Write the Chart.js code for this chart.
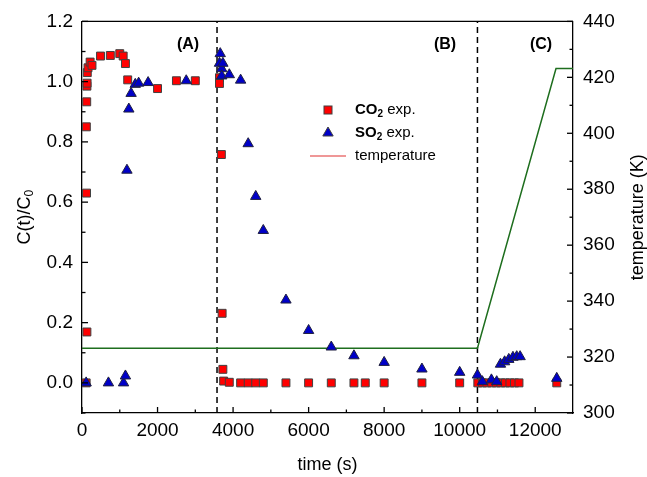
<!DOCTYPE html>
<html>
<head>
<meta charset="utf-8">
<script src="https://cdn.jsdelivr.net/npm/chart.js@4"></script>
<style>
  html, body { margin: 0; padding: 0; background: #fff; }
</style>
</head>
<body>
<canvas id="chart" width="647" height="477"></canvas>
<script>
// ─── Data ─────────────────────────────────────
const co2Time  = [110, 130, 120, 115, 125, 130, 135, 140, 160, 215, 265, 490, 750, 1000, 1090, 1150, 1210,
                  2000, 2500, 3000, 3640, 3640, 3690, 3710, 3730, 3750, 3900, 4200, 4400, 4600, 4800, 5400,
                  6000, 6600, 7200, 7500, 8000, 9000, 10000, 10480, 10600, 10720, 10850, 10970, 11090, 11210,
                  11330, 11450, 11570, 12570];
const co2Value = [0.0, 0.169, 0.63, 0.85, 0.933, 0.985, 0.995, 1.03, 1.046, 1.065, 1.054, 1.085, 1.087, 1.093, 1.085, 1.06, 1.006,
                  0.977, 1.003, 1.003, 1.013, 0.994, 0.758, 0.231, 0.045, 0.006, 0.002, 0.0, 0.0, 0.0, 0.0, 0.0,
                  0.0, 0.0, 0.0, 0.0, 0.0, 0.0, 0.0, 0.0, 0.0, 0.0, 0.0, 0.0, 0.0, 0.0,
                  0.0, 0.0, 0.0, 0.0];

const so2Time  = [110, 700, 1100, 1150, 1190, 1240, 1300, 1410, 1500, 1750, 2760, 3640, 3660, 3700, 3700, 3730,
                  3900, 4200, 4400, 4600, 4800, 5400, 6000, 6600, 7200, 8000, 9000, 10000, 10470, 10600, 10840,
                  10980, 11080, 11190, 11300, 11410, 11510, 11600, 12570];
const so2Value = [0.0, 0.0, 0.0, 0.023, 0.706, 0.909, 0.961, 0.991, 0.995, 0.997, 1.003, 1.061, 1.093, 1.043, 1.019, 1.061,
                  1.023, 1.005, 0.794, 0.619, 0.506, 0.275, 0.174, 0.119, 0.09, 0.068, 0.046, 0.035, 0.026, 0.004, 0.01,
                  0.004, 0.062, 0.07, 0.078, 0.085, 0.087, 0.087, 0.015];

const tempTime = [0, 10470, 12550, 13000];
const tempK    = [323.15, 323.15, 423.15, 423.15];

const phaseBreaks = [3575, 10470];            // dashed separators
const phaseLabels = ['(A)', '(B)', '(C)'];

const xTicks      = [0, 2000, 4000, 6000, 8000, 10000, 12000];
const xMinor      = [1000, 3000, 5000, 7000, 9000, 11000];
const yTicks      = [0, 0.2, 0.4, 0.6, 0.8, 1.0, 1.2];
const yMinor      = [-0.1, 0.1, 0.3, 0.5, 0.7, 0.9, 1.1];
const tTicks      = [300, 320, 340, 360, 380, 400, 420, 440];
const tMinor      = [310, 330, 350, 370, 390, 410, 430];

const FONT = "'Liberation Sans', Arial, sans-serif";
const RED = '#ff0000', BLUE = '#0000c8', GREEN = '#1e6e1e';

const zip = (xs, ys) => xs.map((x, i) => ({ x, y: ys[i] }));

// ─── Decorations: inward ticks, frame, dashed lines, labels, legend ──
const decor = {
  id: 'decor',
  beforeDatasetsDraw(chart) {
    const { ctx, chartArea: a, scales } = chart;
    ctx.save();
    ctx.strokeStyle = '#000';
    ctx.lineWidth = 1.5;
    ctx.setLineDash([6, 4]);
    phaseBreaks.forEach(t => {
      const px = scales.x.getPixelForValue(t);
      ctx.beginPath(); ctx.moveTo(px, a.bottom); ctx.lineTo(px, a.top); ctx.stroke();
    });
    ctx.restore();
  },
  afterDraw(chart) {
    const { ctx, chartArea: a, scales } = chart;
    const { x, y, y2 } = scales;
    ctx.save();
    ctx.strokeStyle = '#000';
    ctx.lineWidth = 1.3;

    // frame top line
    ctx.beginPath(); ctx.moveTo(a.left, a.top); ctx.lineTo(a.right, a.top); ctx.stroke();

    const tick = (x0, y0, x1, y1) => { ctx.beginPath(); ctx.moveTo(x0, y0); ctx.lineTo(x1, y1); ctx.stroke(); };
    xTicks.forEach(v => { const p = x.getPixelForValue(v); tick(p, a.bottom, p, a.bottom - 6); });
    xMinor.forEach(v => { const p = x.getPixelForValue(v); tick(p, a.bottom, p, a.bottom - 3.5); });
    yTicks.forEach(v => { const p = y.getPixelForValue(v); tick(a.left, p, a.left + 6, p); });
    yMinor.forEach(v => { const p = y.getPixelForValue(v); tick(a.left, p, a.left + 3.5, p); });
    tTicks.forEach(v => { const p = y2.getPixelForValue(v); tick(a.right, p, a.right - 6, p); });
    tMinor.forEach(v => { const p = y2.getPixelForValue(v); tick(a.right, p, a.right - 3.5, p); });

    ctx.fillStyle = '#000';
    ctx.textBaseline = 'middle';

    // phase labels
    ctx.font = `bold 16px ${FONT}`;
    ctx.textAlign = 'center';
    [[188, 45], [445, 45], [541, 45]].forEach((p, i) => ctx.fillText(phaseLabels[i], p[0], p[1]));

    // axis titles
    ctx.font = `18px ${FONT}`;
    ctx.fillText('time (s)', (a.left + a.right) / 2, 465);

    ctx.save();
    ctx.translate(25, (a.top + a.bottom) / 2);
    ctx.rotate(-Math.PI / 2);
    ctx.font = `18px ${FONT}`;
    const main = 'C(t)/C', wMain = ctx.measureText(main).width;
    ctx.font = `12px ${FONT}`;
    const wSub = ctx.measureText('0').width;
    const x0 = -(wMain + wSub) / 2;
    ctx.textAlign = 'left';
    ctx.font = `18px ${FONT}`;
    ctx.fillText(main, x0, 0);
    ctx.font = `12px ${FONT}`;
    ctx.fillText('0', x0 + wMain, 5);
    ctx.restore();

    ctx.save();
    ctx.translate(638, (a.top + a.bottom) / 2);
    ctx.rotate(-Math.PI / 2);
    ctx.font = `18px ${FONT}`;
    ctx.textAlign = 'center';
    ctx.fillText('temperature (K)', 0, 0);
    ctx.restore();

    // legend
    const lx = 328, tx = 355, rows = [110, 133, 156];
    ctx.lineWidth = 1;
    ctx.strokeStyle = '#404040';
    ctx.fillStyle = RED;
    ctx.fillRect(lx - 4, rows[0] - 4, 8, 8); ctx.strokeRect(lx - 4, rows[0] - 4, 8, 8);
    ctx.fillStyle = BLUE;
    ctx.beginPath();
    ctx.moveTo(lx, rows[1] - 6); ctx.lineTo(lx + 5.2, rows[1] + 3); ctx.lineTo(lx - 5.2, rows[1] + 3); ctx.closePath();
    ctx.fill(); ctx.stroke();
    ctx.strokeStyle = '#e03030';
    ctx.lineWidth = 1.2;
    ctx.beginPath(); ctx.moveTo(310, rows[2]); ctx.lineTo(346, rows[2]); ctx.stroke();

    ctx.fillStyle = '#000';
    ctx.textAlign = 'left';
    const subLabel = (gas, row) => {
      let cx = tx;
      ctx.font = `bold 15px ${FONT}`;
      ctx.fillText(gas, cx, row); cx += ctx.measureText(gas).width;
      ctx.font = `bold 10px ${FONT}`;
      ctx.fillText('2', cx, row + 4); cx += ctx.measureText('2').width;
      ctx.font = `15px ${FONT}`;
      ctx.fillText(' exp.', cx, row);
    };
    subLabel('CO', rows[0]);
    subLabel('SO', rows[1]);
    ctx.font = `15px ${FONT}`;
    ctx.fillText('temperature', tx, rows[2]);
    ctx.restore();
  }
};

const axisBase = {
  grid: { display: false, drawTicks: false },
  border: { display: true, color: '#000', width: 1.3 },
  ticks: { color: '#000', font: { family: FONT, size: 19 }, autoSkip: false, maxRotation: 0 },
};

new Chart(document.getElementById('chart'), {
  type: 'scatter',
  data: {
    datasets: [
      {
        label: 'SO2 exp.', data: zip(so2Time, so2Value), yAxisID: 'y', order: 1,
        pointStyle: 'triangle', pointRadius: 6, pointBackgroundColor: BLUE,
        pointBorderColor: '#202040', pointBorderWidth: 1,
      },
      {
        label: 'CO2 exp.', data: zip(co2Time, co2Value), yAxisID: 'y', order: 2,
        pointStyle: 'rect', pointRadius: 5.6, pointBackgroundColor: RED,
        pointBorderColor: '#404040', pointBorderWidth: 1,
      },
      {
        type: 'line', label: 'temperature', data: zip(tempTime, tempK), yAxisID: 'y2', order: 3,
        borderColor: GREEN, borderWidth: 1.5, pointRadius: 0, tension: 0, fill: false,
      },
    ],
  },
  options: {
    responsive: false,
    animation: false,
    layout: { padding: { top: 18, left: 0, right: 0, bottom: 0 } },
    plugins: { legend: { display: false }, tooltip: { enabled: false } },
    scales: {
      x: {
        ...axisBase, type: 'linear', min: 0, max: 13000,
        ticks: { ...axisBase.ticks, padding: 6, callback: v => String(v) },
        afterBuildTicks: s => { s.ticks = xTicks.map(v => ({ value: v })); },
        afterFit: s => { s.height = 64; },
      },
      y: {
        ...axisBase, position: 'left', min: -0.1, max: 1.2,
        ticks: { ...axisBase.ticks, padding: 9, callback: v => v.toFixed(1) },
        afterBuildTicks: s => { s.ticks = yTicks.map(v => ({ value: v })); },
        afterFit: s => { s.width = 82; },
      },
      y2: {
        ...axisBase, position: 'right', min: 300, max: 440,
        ticks: { ...axisBase.ticks, padding: 10 },
        afterBuildTicks: s => { s.ticks = tTicks.map(v => ({ value: v })); },
        afterFit: s => { s.width = 74; },
      },
    },
  },
  plugins: [decor],
});
</script>
</body>
</html>
